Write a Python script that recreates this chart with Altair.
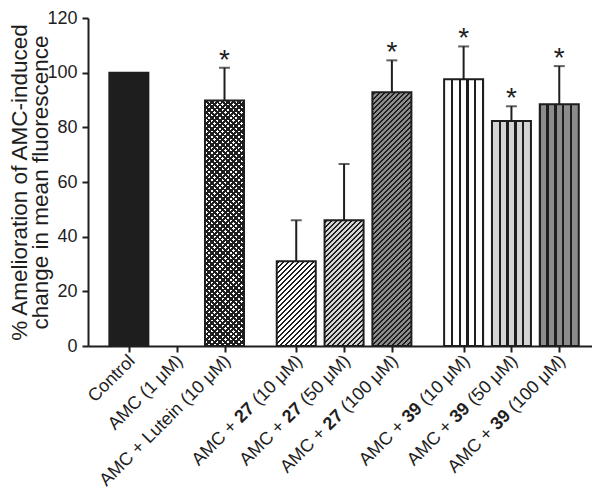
import altair as alt
import pandas as pd

# ---------------- data ----------------
categories = [
    "Control", "AMC (1 μM)", "AMC + Lutein (10 μM)",
    "AMC + 27 (10 μM)", "AMC + 27 (50 μM)", "AMC + 27 (100 μM)",
    "AMC + 39 (10 μM)", "AMC + 39 (50 μM)", "AMC + 39 (100 μM)",
]
bold_parts = ["", "", "", "27", "27", "27", "39", "39", "39"]
groups = [0, 0, 0, 1, 1, 1, 2, 2, 2]
means = [100.0, 0.0, 89.8, 31.0, 46.0, 92.8, 97.6, 82.3, 88.4]
errors = [0.0, 0.0, 12.0, 15.0, 20.6, 11.7, 12.0, 5.4, 14.0]
significant = [False, False, True, False, False, True, True, True, True]
y_ticks = [0, 20, 40, 60, 80, 100, 120]
y_title = ["% Amelioration of AMC-induced", "change in mean fluorescence"]

# ---------------- layout / style ----------------
PLOT_W, PLOT_H = 504, 328
X_DOMAIN = [-0.75, 9.58]
Y_DOMAIN = [0, 120]
BAR_W = 39
INK = "#1e1e1e"
GRAY_L = "#d4d4d4"
GRAY_D = "#8c8c8c"
FONT = "Liberation Sans"
LABEL_SIZE = 18
LABEL_SHIFT = 5  # slide labels along their own direction
CLEAR = "rgba(255,255,255,0)"

# position of each category on the x scale: index plus a half-slot gap per group
pos = [i + 0.5 * g for i, g in enumerate(groups)]

ARIAL = {" ": 278, "(": 333, ")": 333, "μ": 576, "M": 833, "A": 667, "C": 722,
         "+": 584, "L": 556, "u": 556, "t": 278, "e": 556, "i": 222, "n": 556,
         "o": 556, "r": 333, "l": 222}


def tw(s, size=LABEL_SIZE):
    return sum(ARIAL.get(ch, 556) for ch in s) * size / 1000.0


rows = []
for i, cat in enumerate(categories):
    b = bold_parts[i]
    if b:
        pre, post = cat.split(" " + b + " ")
    else:
        pre, post = "", cat
    dx_bold = -(tw(post) + tw(" "))
    dx_pre = dx_bold - tw(b) - tw(" ")
    rows.append(dict(idx=i, cat=cat, pos=pos[i], mean=means[i], err=errors[i],
                     top=means[i] + errors[i], sig=significant[i],
                     pre=pre, bold=b, post=post,
                     dx_bold=round(dx_bold, 2), dx_pre=round(dx_pre, 2)))
df = pd.DataFrame(rows)


def stripe_stops(n, frac, ink, bg, phase=0.0):
    half = frac / 2.0
    intervals = []
    j = -1
    while (j + phase - half) / n < 1:
        a = max((j + phase - half) / n, 0.0)
        b = min((j + phase + half) / n, 1.0)
        if b > a:
            intervals.append((a, b))
        j += 1
    stops, cur = [], 0.0
    for a, b in intervals:
        if a > cur:
            stops += [{"offset": round(cur, 5), "color": bg}, {"offset": round(a, 5), "color": bg}]
        stops += [{"offset": round(a, 5), "color": ink}, {"offset": round(b, 5), "color": ink}]
        cur = b
    if cur < 1:
        stops += [{"offset": round(cur, 5), "color": bg}, {"offset": 1, "color": bg}]
    return stops


def vert_fill(bg):
    return {"gradient": "linear", "x1": 0, "y1": 0, "x2": 1, "y2": 0,
            "stops": stripe_stops(5, 0.3, INK, bg)}


def diag_fill(H, bg, period=5.0, frac=0.42, back=False):
    W = float(BAR_W)
    a = W * (W + H) / (W * W + H * H)
    b = H * (W + H) / (W * W + H * H)
    n = (W + H) / period
    g = {"gradient": "linear", "stops": stripe_stops(n, frac, INK, bg, 0.5)}
    if back:
        g.update(x1=0, y1=1, x2=round(a, 5), y2=round(1 - b, 5))
    else:
        g.update(x1=0, y1=0, x2=round(a, 5), y2=round(b, 5))
    return g


X = alt.X("pos:Q", scale=alt.Scale(domain=X_DOMAIN, nice=False, zero=False),
          axis=alt.Axis(values=pos, labels=False, title=None, grid=False,
                        tickSize=6, tickWidth=2, tickColor=INK,
                        domainColor=INK, domainWidth=2))


def Y(field):
    return alt.Y(field, type="quantitative",
                 scale=alt.Scale(domain=Y_DOMAIN, nice=False),
                 axis=alt.Axis(values=y_ticks, title=y_title, grid=False,
                               labelFont=FONT, labelFontSize=18, labelColor=INK,
                               labelPadding=5, tickSize=6, tickWidth=2, tickColor=INK,
                               domainColor=INK, domainWidth=2,
                               titleFont=FONT, titleFontSize=22.5, titleFontWeight="normal",
                               titleColor=INK, titleAngle=270, titleBaseline="top",
                               titleAlign="center", titleX=-80, titleY=164,
                               titleLineHeight=21))


base = alt.Chart(df)
layers = []
styles = {0: ("solid", INK), 2: ("cross", "white"), 3: ("diag", "white"),
          4: ("diag", GRAY_L), 5: ("diag", GRAY_D), 6: ("vert", "white"),
          7: ("vert", GRAY_L), 8: ("vert", GRAY_D)}
for i, (kind, bg) in styles.items():
    H = means[i] / (Y_DOMAIN[1] - Y_DOMAIN[0]) * PLOT_H
    sel = base.transform_filter(alt.datum.idx == i)
    if kind == "solid":
        layers.append(sel.mark_bar(width=BAR_W, fill=INK, stroke=INK, strokeWidth=2)
                      .encode(x=X, y=Y("mean")))
    elif kind == "vert":
        layers.append(sel.mark_bar(width=BAR_W, fill=vert_fill(bg), stroke=INK, strokeWidth=2)
                      .encode(x=X, y=Y("mean")))
    elif kind == "diag":
        layers.append(sel.mark_bar(width=BAR_W, fill=diag_fill(H, bg), stroke=INK, strokeWidth=2)
                      .encode(x=X, y=Y("mean")))
    else:  # cross hatch: two diagonal layers
        layers.append(sel.mark_bar(width=BAR_W, fill=diag_fill(H, bg, 5.4, 0.5))
                      .encode(x=X, y=Y("mean")))
        layers.append(sel.mark_bar(width=BAR_W, fill=diag_fill(H, CLEAR, 5.4, 0.5, back=True),
                                   stroke=INK, strokeWidth=2)
                      .encode(x=X, y=Y("mean")))

eb = base.transform_filter(alt.datum.err > 0)
layers.append(eb.mark_rule(color=INK, strokeWidth=2).encode(x=X, y=Y("mean"), y2="top:Q"))
layers.append(eb.mark_tick(color=INK, orient="horizontal", size=11, thickness=2)
              .encode(x=X, y=Y("top")))
layers.append(base.transform_filter(alt.datum.sig == True)
              .mark_text(text="*", font=FONT, fontSize=28, color=INK, baseline="alphabetic", dy=1)
              .encode(x=X, y=Y("top")))

# x category labels, rotated, with the compound number in bold
LY = alt.value(PLOT_H + 16)
txt = dict(angle=315, align="right", baseline="middle", font=FONT,
           fontSize=LABEL_SIZE, color=INK)
layers.append(base.mark_text(dx=LABEL_SHIFT, **txt).encode(x=X, y=LY, text="post:N"))
for d in sorted(df.loc[df.bold != "", "dx_bold"].unique()):
    sub = base.transform_filter((alt.datum.bold != "") & (alt.datum.dx_bold == float(d)))
    layers.append(sub.mark_text(dx=float(d) + LABEL_SHIFT, fontWeight="bold", **txt)
                  .encode(x=X, y=LY, text="bold:N"))
for d in sorted(df.loc[df.pre != "", "dx_pre"].unique()):
    sub = base.transform_filter((alt.datum.pre != "") & (alt.datum.dx_pre == float(d)))
    layers.append(sub.mark_text(dx=float(d) + LABEL_SHIFT, **txt)
                  .encode(x=X, y=LY, text="pre:N"))

chart = (
    alt.layer(*layers)
    .properties(width=PLOT_W, height=PLOT_H,
                padding={"left": 80, "top": 10, "right": 0, "bottom": 145},
                autosize=alt.AutoSizeParams(type="none"), background="white")
    .configure_view(stroke=None)
)

chart.save("out.html", embed_options={"renderer": "svg", "actions": False})
